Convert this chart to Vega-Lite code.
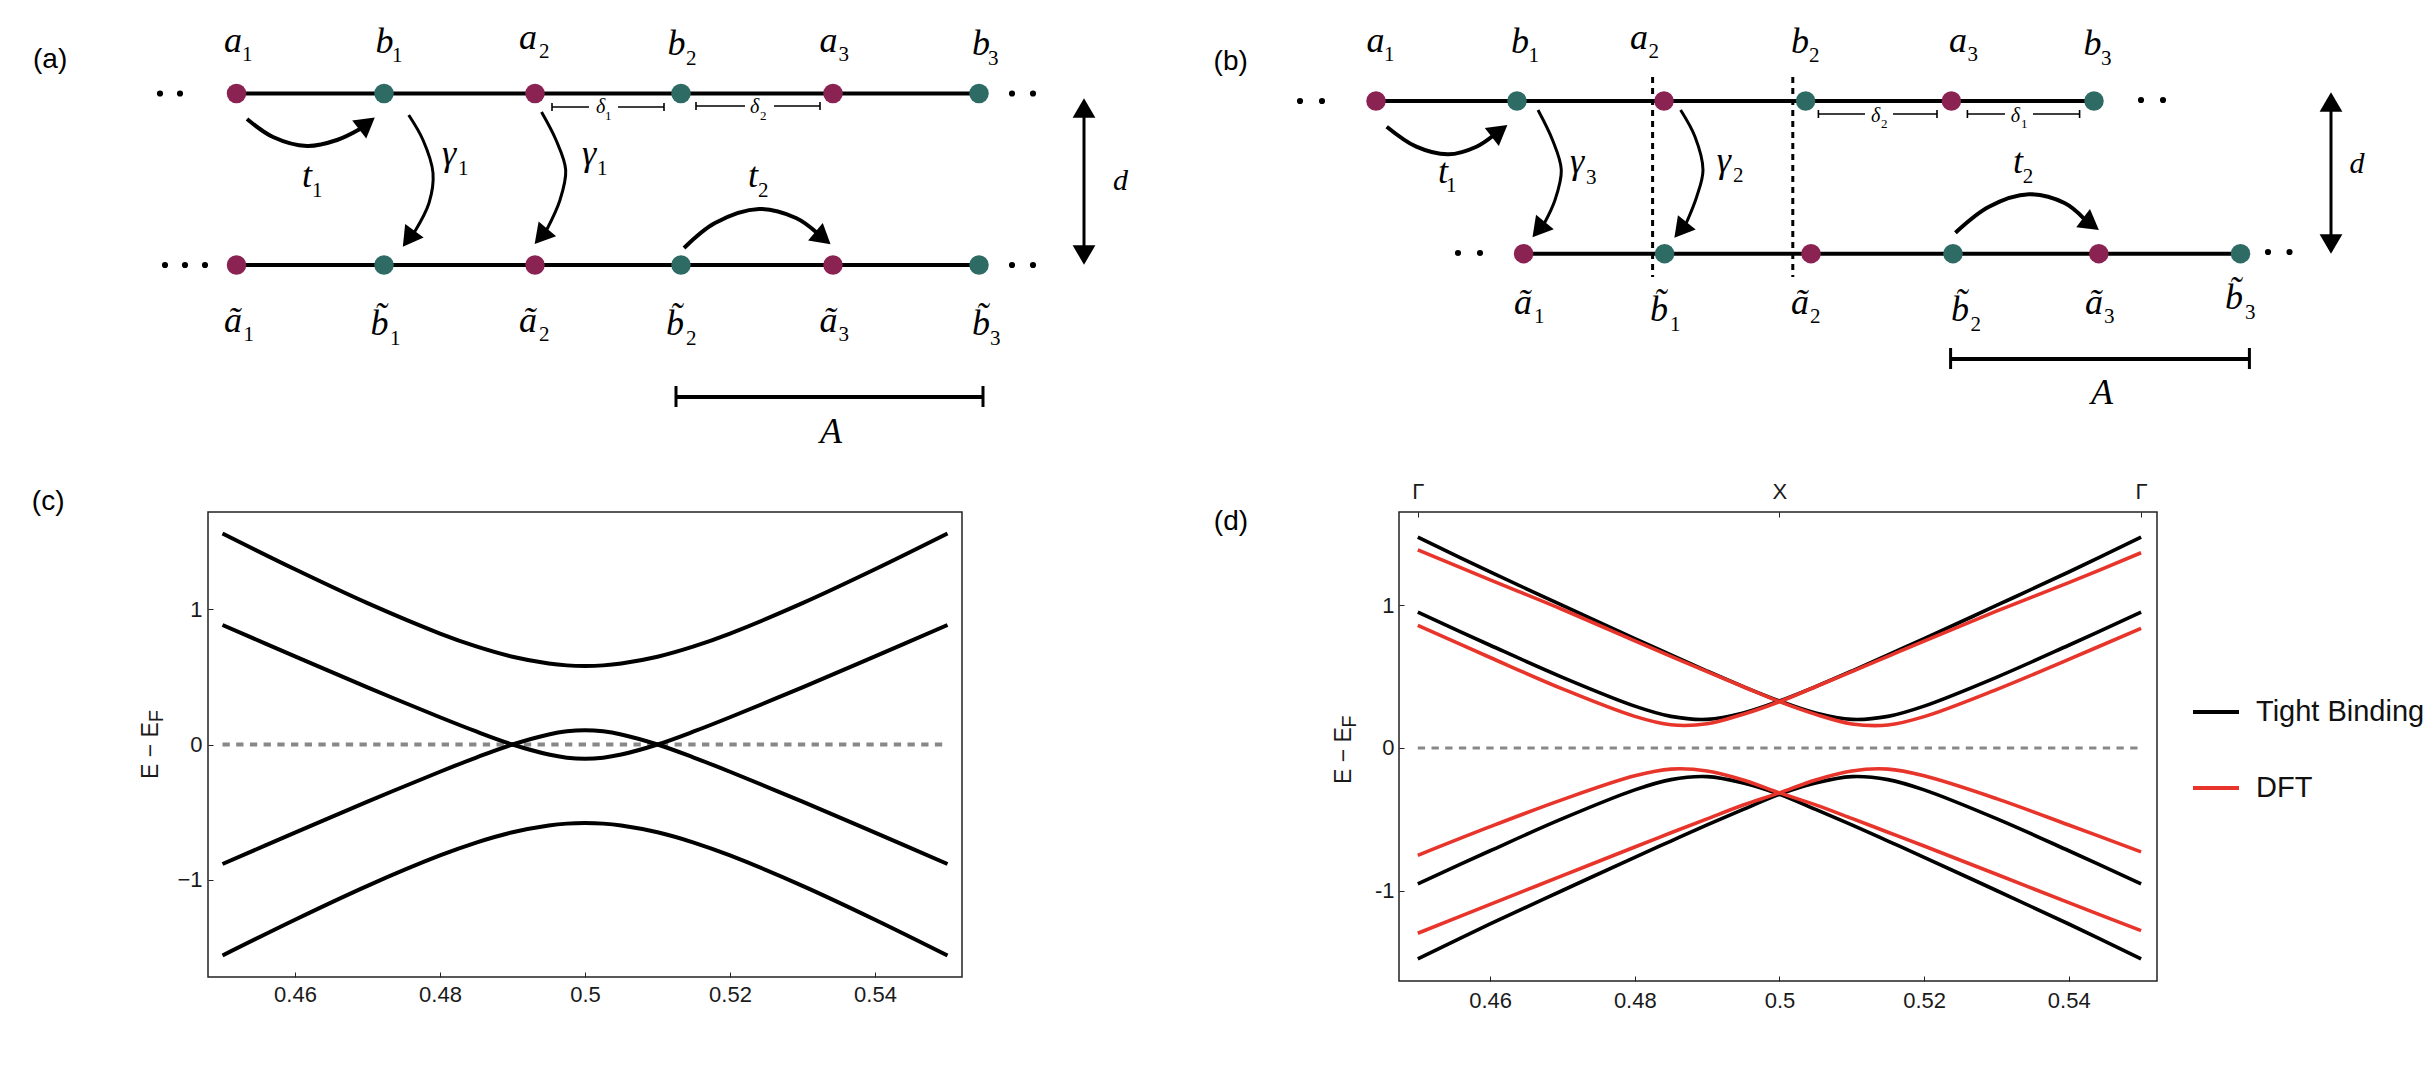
{"$schema":"https://vega.github.io/schema/vega-lite/v6.json","background":"white","padding":{"left":31,"top":0,"right":0,"bottom":0},"columns":2,"align":"each","bounds":"flush","spacing":{"column":437,"row":32},"resolve":{"scale":{"color":"independent"},"legend":{"color":"independent"}},"config":{"style":{"cell":{"stroke":null}}},
"datasets":{
"a_nodes":[{"n":"a1","c":"top","s":"a","x":236.5,"y":93.5},{"n":"b1","c":"top","s":"b","x":384,"y":93.5},{"n":"a2","c":"top","s":"a","x":535,"y":93.5},{"n":"b2","c":"top","s":"b","x":681,"y":93.5},{"n":"a3","c":"top","s":"a","x":833,"y":93.5},{"n":"b3","c":"top","s":"b","x":979,"y":93.5},{"n":"a1t","c":"bot","s":"a","x":236.5,"y":265},{"n":"b1t","c":"bot","s":"b","x":384,"y":265},{"n":"a2t","c":"bot","s":"a","x":535,"y":265},{"n":"b2t","c":"bot","s":"b","x":681,"y":265},{"n":"a3t","c":"bot","s":"a","x":833,"y":265},{"n":"b3t","c":"bot","s":"b","x":979,"y":265}],
"a_dots":[{"x":160,"y":93.5},{"x":180,"y":93.5},{"x":1012,"y":93.5},{"x":1033,"y":93.5},{"x":165,"y":265},{"x":185,"y":265},{"x":205,"y":265},{"x":1012,"y":265},{"x":1033,"y":265}],
"a_segs":[{"s":"A","k":"w4","x":676,"y":397},{"s":"A","k":"w4","x":983,"y":397},{"s":"c1","k":"w3","x":676,"y":386},{"s":"c1","k":"w3","x":676,"y":407},{"s":"c2","k":"w3","x":983,"y":386},{"s":"c2","k":"w3","x":983,"y":407},{"s":"d","k":"w3","x":1084,"y":110},{"s":"d","k":"w3","x":1084,"y":253},
{"s":"d1a","k":"w1","x":552,"y":107},{"s":"d1a","k":"w1","x":589,"y":107},{"s":"d1b","k":"w1","x":618,"y":107},{"s":"d1b","k":"w1","x":664,"y":107},{"s":"d1c","k":"w1","x":552,"y":103},{"s":"d1c","k":"w1","x":552,"y":111},{"s":"d1d","k":"w1","x":664,"y":103},{"s":"d1d","k":"w1","x":664,"y":111},
{"s":"d2a","k":"w1","x":696,"y":106},{"s":"d2a","k":"w1","x":745,"y":106},{"s":"d2b","k":"w1","x":774,"y":106},{"s":"d2b","k":"w1","x":820,"y":106},{"s":"d2c","k":"w1","x":696,"y":102},{"s":"d2c","k":"w1","x":696,"y":110},{"s":"d2d","k":"w1","x":820,"y":102},{"s":"d2d","k":"w1","x":820,"y":110}],
"a_arrows":[{"a":"t1","k":"t","i":0,"x":247,"y":119},{"a":"t1","k":"t","i":1,"x":273,"y":137},{"a":"t1","k":"t","i":2,"x":307,"y":146},{"a":"t1","k":"t","i":3,"x":337,"y":140},{"a":"t1","k":"t","i":4,"x":360,"y":129},
{"a":"g1","k":"g","i":0,"x":408.7,"y":115},{"a":"g1","k":"g","i":1,"x":423,"y":140},{"a":"g1","k":"g","i":2,"x":433,"y":173},{"a":"g1","k":"g","i":3,"x":429,"y":203},{"a":"g1","k":"g","i":4,"x":414.5,"y":232},
{"a":"g2","k":"g","i":0,"x":541.5,"y":112},{"a":"g2","k":"g","i":1,"x":556,"y":140},{"a":"g2","k":"g","i":2,"x":565.7,"y":170},{"a":"g2","k":"g","i":3,"x":560,"y":200},{"a":"g2","k":"g","i":4,"x":546.6,"y":230},
{"a":"t2","k":"t","i":0,"x":684,"y":248},{"a":"t2","k":"t","i":1,"x":715,"y":223},{"a":"t2","k":"t","i":2,"x":759,"y":209},{"a":"t2","k":"t","i":3,"x":796,"y":218},{"a":"t2","k":"t","i":4,"x":816,"y":232}],
"a_heads":[{"x":367,"y":123.5,"r":52},{"x":408.6,"y":238.8,"r":216},{"x":541,"y":236.5,"r":220},{"x":823,"y":238,"r":130},{"x":1084,"y":108,"r":0},{"x":1084,"y":255,"r":180}],
"a_text":[{"k":"panel","t":"(a)","x":33,"y":68},
{"k":"main","t":"a","x":224,"y":52},{"k":"sub","t":"1","x":242,"y":61},{"k":"main","t":"b","x":375.6,"y":53},{"k":"sub","t":"1","x":392,"y":62},{"k":"main","t":"a","x":519,"y":49},{"k":"sub","t":"2","x":539,"y":58},{"k":"main","t":"b","x":667.6,"y":55},{"k":"sub","t":"2","x":686,"y":65},{"k":"main","t":"a","x":819.5,"y":52},{"k":"sub","t":"3","x":838.6,"y":61},{"k":"main","t":"b","x":972,"y":55},{"k":"sub","t":"3","x":988,"y":65},
{"k":"main","t":"ã","x":224,"y":332},{"k":"sub","t":"1","x":243.6,"y":341},{"k":"main","t":"b̃","x":370.5,"y":335},{"k":"sub","t":"1","x":390,"y":345},{"k":"main","t":"ã","x":519,"y":332},{"k":"sub","t":"2","x":539,"y":341},{"k":"main","t":"b̃","x":666,"y":335},{"k":"sub","t":"2","x":686,"y":345},{"k":"main","t":"ã","x":819.5,"y":332},{"k":"sub","t":"3","x":838.6,"y":341},{"k":"main","t":"b̃","x":972,"y":335},{"k":"sub","t":"3","x":990,"y":345},
{"k":"main","t":"t","x":302,"y":187},{"k":"sub","t":"1","x":312,"y":197},{"k":"main","t":"γ","x":442,"y":165},{"k":"sub","t":"1","x":458,"y":175},{"k":"main","t":"γ","x":582,"y":165},{"k":"sub","t":"1","x":597,"y":175},{"k":"main","t":"t","x":748,"y":187},{"k":"sub","t":"2","x":758,"y":197},{"k":"main","t":"A","x":820,"y":443},{"k":"d","t":"d","x":1113,"y":190},
{"k":"small","t":"δ","x":596,"y":113},{"k":"smallsub","t":"1","x":605,"y":120},{"k":"small","t":"δ","x":750,"y":113},{"k":"smallsub","t":"2","x":760,"y":120}],
"b_nodes":[{"n":"a1","c":"top","s":"a","x":1376,"y":101},{"n":"b1","c":"top","s":"b","x":1517,"y":101},{"n":"a2","c":"top","s":"a","x":1664,"y":101},{"n":"b2","c":"top","s":"b","x":1805.6,"y":101},{"n":"a3","c":"top","s":"a","x":1951.4,"y":101},{"n":"b3","c":"top","s":"b","x":2094,"y":101},{"n":"a1t","c":"bot","s":"a","x":1523.6,"y":253.7},{"n":"b1t","c":"bot","s":"b","x":1664.6,"y":253.7},{"n":"a2t","c":"bot","s":"a","x":1811,"y":253.7},{"n":"b2t","c":"bot","s":"b","x":1953,"y":253.7},{"n":"a3t","c":"bot","s":"a","x":2098.8,"y":253.7},{"n":"b3t","c":"bot","s":"b","x":2240.5,"y":253.7}],
"b_dots":[{"x":1300,"y":101},{"x":1322,"y":101},{"x":2141,"y":100},{"x":2163,"y":100},{"x":1458,"y":253},{"x":1480,"y":253},{"x":2268,"y":252},{"x":2289.5,"y":252}],
"b_segs":[{"s":"A","k":"w4","x":1950.6,"y":359},{"s":"A","k":"w4","x":2249.4,"y":359},{"s":"c1","k":"w3","x":1950.6,"y":348},{"s":"c1","k":"w3","x":1950.6,"y":369},{"s":"c2","k":"w3","x":2249.4,"y":348},{"s":"c2","k":"w3","x":2249.4,"y":369},{"s":"d","k":"w3","x":2331,"y":104},{"s":"d","k":"w3","x":2331,"y":242},
{"s":"d2a","k":"w1","x":1818.4,"y":114},{"s":"d2a","k":"w1","x":1865,"y":114},{"s":"d2b","k":"w1","x":1893,"y":114},{"s":"d2b","k":"w1","x":1937,"y":114},{"s":"d2c","k":"w1","x":1818.4,"y":110},{"s":"d2c","k":"w1","x":1818.4,"y":118},{"s":"d2d","k":"w1","x":1937,"y":110},{"s":"d2d","k":"w1","x":1937,"y":118},
{"s":"d1a","k":"w1","x":1967.4,"y":114},{"s":"d1a","k":"w1","x":2005,"y":114},{"s":"d1b","k":"w1","x":2033,"y":114},{"s":"d1b","k":"w1","x":2079.6,"y":114},{"s":"d1c","k":"w1","x":1967.4,"y":110},{"s":"d1c","k":"w1","x":1967.4,"y":118},{"s":"d1d","k":"w1","x":2079.6,"y":110},{"s":"d1d","k":"w1","x":2079.6,"y":118},
{"s":"v1","k":"dash","x":1652.6,"y":77},{"s":"v1","k":"dash","x":1652.6,"y":277},{"s":"v2","k":"dash","x":1792.8,"y":77},{"s":"v2","k":"dash","x":1792.8,"y":277}],
"b_arrows":[{"a":"t1","k":"t","i":0,"x":1386.7,"y":126.7},{"a":"t1","k":"t","i":1,"x":1416.3,"y":146.7},{"a":"t1","k":"t","i":2,"x":1448.3,"y":154.3},{"a":"t1","k":"t","i":3,"x":1476.4,"y":146.7},{"a":"t1","k":"t","i":4,"x":1494,"y":135},
{"a":"g3","k":"g","i":0,"x":1538,"y":110},{"a":"g3","k":"g","i":1,"x":1552.5,"y":140},{"a":"g3","k":"g","i":2,"x":1561.3,"y":170},{"a":"g3","k":"g","i":3,"x":1555,"y":200},{"a":"g3","k":"g","i":4,"x":1544.5,"y":223},
{"a":"g2","k":"g","i":0,"x":1680.6,"y":110},{"a":"g2","k":"g","i":1,"x":1695,"y":136.7},{"a":"g2","k":"g","i":2,"x":1703,"y":170},{"a":"g2","k":"g","i":3,"x":1696.7,"y":196.7},{"a":"g2","k":"g","i":4,"x":1686.3,"y":223},
{"a":"t2","k":"t","i":0,"x":1955.4,"y":232.7},{"a":"t2","k":"t","i":1,"x":1989,"y":206.7},{"a":"t2","k":"t","i":2,"x":2029,"y":194.3},{"a":"t2","k":"t","i":3,"x":2065,"y":203.3},{"a":"t2","k":"t","i":4,"x":2083.6,"y":218.3}],
"b_heads":[{"x":1499.6,"y":131,"r":52},{"x":1538.7,"y":229.7,"r":219},{"x":1680.6,"y":230,"r":219},{"x":2091,"y":224,"r":127},{"x":2331,"y":102,"r":0},{"x":2331,"y":244,"r":180}],
"b_text":[{"k":"panel","t":"(b)","x":1213.6,"y":70},
{"k":"main","t":"a","x":1366.6,"y":52},{"k":"sub","t":"1","x":1384,"y":61},{"k":"main","t":"b","x":1511,"y":53},{"k":"sub","t":"1","x":1528.4,"y":62},{"k":"main","t":"a","x":1630,"y":49},{"k":"sub","t":"2","x":1648.6,"y":58},{"k":"main","t":"b","x":1791,"y":53},{"k":"sub","t":"2","x":1809,"y":62},{"k":"main","t":"a","x":1949,"y":52},{"k":"sub","t":"3","x":1967.4,"y":61},{"k":"main","t":"b","x":2083.5,"y":55},{"k":"sub","t":"3","x":2101,"y":65},
{"k":"main","t":"ã","x":1514,"y":314},{"k":"sub","t":"1","x":1534,"y":323},{"k":"main","t":"b̃","x":1650,"y":320.7},{"k":"sub","t":"1","x":1670,"y":331},{"k":"main","t":"ã","x":1791,"y":314},{"k":"sub","t":"2","x":1810,"y":323},{"k":"main","t":"b̃","x":1951,"y":320.7},{"k":"sub","t":"2","x":1970.6,"y":331},{"k":"main","t":"ã","x":2085,"y":314},{"k":"sub","t":"3","x":2104,"y":323},{"k":"main","t":"b̃","x":2225,"y":309},{"k":"sub","t":"3","x":2245,"y":319},
{"k":"main","t":"t","x":1438,"y":183},{"k":"sub","t":"1","x":1446,"y":192},{"k":"main","t":"γ","x":1570,"y":173},{"k":"sub","t":"3","x":1586,"y":184},{"k":"main","t":"γ","x":1716.7,"y":172},{"k":"sub","t":"2","x":1733,"y":182},{"k":"main","t":"t","x":2013,"y":173},{"k":"sub","t":"2","x":2022.7,"y":183},{"k":"main","t":"A","x":2091,"y":404},{"k":"d","t":"d","x":2349.5,"y":172.7},
{"k":"small","t":"δ","x":1871,"y":121.7},{"k":"smallsub","t":"2","x":1881,"y":128},{"k":"small","t":"δ","x":2010.7,"y":121.7},{"k":"smallsub","t":"1","x":2021,"y":128}],
"c_bands":[
{"b":"1","k":0.45,"E":1.557},{"b":"1","k":0.46,"E":1.293},{"b":"1","k":0.47,"E":1.043},{"b":"1","k":0.48,"E":0.819},{"b":"1","k":0.485,"E":0.724},{"b":"1","k":0.49,"E":0.648},{"b":"1","k":0.495,"E":0.598},{"b":"1","k":0.4975,"E":0.584},{"b":"1","k":0.5,"E":0.58},{"b":"1","k":0.5025,"E":0.584},{"b":"1","k":0.505,"E":0.598},{"b":"1","k":0.51,"E":0.648},{"b":"1","k":0.515,"E":0.724},{"b":"1","k":0.52,"E":0.819},{"b":"1","k":0.53,"E":1.043},{"b":"1","k":0.54,"E":1.293},{"b":"1","k":0.55,"E":1.557},
{"b":"2","k":0.45,"E":0.882},{"b":"2","k":0.46,"E":0.651},{"b":"2","k":0.47,"E":0.422},{"b":"2","k":0.48,"E":0.201},{"b":"2","k":0.485,"E":0.096},{"b":"2","k":0.49,"E":0},{"b":"2","k":0.495,"E":-0.074},{"b":"2","k":0.4975,"E":-0.097},{"b":"2","k":0.5,"E":-0.105},{"b":"2","k":0.5025,"E":-0.097},{"b":"2","k":0.505,"E":-0.074},{"b":"2","k":0.51,"E":0},{"b":"2","k":0.515,"E":0.096},{"b":"2","k":0.52,"E":0.201},{"b":"2","k":0.53,"E":0.422},{"b":"2","k":0.54,"E":0.651},{"b":"2","k":0.55,"E":0.882},
{"b":"3","k":0.45,"E":-0.882},{"b":"3","k":0.46,"E":-0.651},{"b":"3","k":0.47,"E":-0.422},{"b":"3","k":0.48,"E":-0.201},{"b":"3","k":0.485,"E":-0.096},{"b":"3","k":0.49,"E":0},{"b":"3","k":0.495,"E":0.074},{"b":"3","k":0.4975,"E":0.097},{"b":"3","k":0.5,"E":0.105},{"b":"3","k":0.5025,"E":0.097},{"b":"3","k":0.505,"E":0.074},{"b":"3","k":0.51,"E":0},{"b":"3","k":0.515,"E":-0.096},{"b":"3","k":0.52,"E":-0.201},{"b":"3","k":0.53,"E":-0.422},{"b":"3","k":0.54,"E":-0.651},{"b":"3","k":0.55,"E":-0.882},
{"b":"4","k":0.45,"E":-1.557},{"b":"4","k":0.46,"E":-1.293},{"b":"4","k":0.47,"E":-1.043},{"b":"4","k":0.48,"E":-0.819},{"b":"4","k":0.485,"E":-0.724},{"b":"4","k":0.49,"E":-0.648},{"b":"4","k":0.495,"E":-0.598},{"b":"4","k":0.4975,"E":-0.584},{"b":"4","k":0.5,"E":-0.58},{"b":"4","k":0.5025,"E":-0.584},{"b":"4","k":0.505,"E":-0.598},{"b":"4","k":0.51,"E":-0.648},{"b":"4","k":0.515,"E":-0.724},{"b":"4","k":0.52,"E":-0.819},{"b":"4","k":0.53,"E":-1.043},{"b":"4","k":0.54,"E":-1.293},{"b":"4","k":0.55,"E":-1.557}],
"d_bands":[
{"m":"Tight Binding","b":"T1","k":0.45,"E":1.48},{"m":"Tight Binding","b":"T1","k":0.46,"E":1.235},{"m":"Tight Binding","b":"T1","k":0.47,"E":1.0},{"m":"Tight Binding","b":"T1","k":0.48,"E":0.767},{"m":"Tight Binding","b":"T1","k":0.485,"E":0.653},{"m":"Tight Binding","b":"T1","k":0.49,"E":0.54},{"m":"Tight Binding","b":"T1","k":0.495,"E":0.431},{"m":"Tight Binding","b":"T1","k":0.5,"E":0.33},{"m":"Tight Binding","b":"T1","k":0.505,"E":0.246},{"m":"Tight Binding","b":"T1","k":0.51,"E":0.201},{"m":"Tight Binding","b":"T1","k":0.515,"E":0.222},{"m":"Tight Binding","b":"T1","k":0.52,"E":0.294},{"m":"Tight Binding","b":"T1","k":0.53,"E":0.496},{"m":"Tight Binding","b":"T1","k":0.54,"E":0.721},{"m":"Tight Binding","b":"T1","k":0.55,"E":0.953},
{"m":"Tight Binding","b":"T2","k":0.45,"E":0.953},{"m":"Tight Binding","b":"T2","k":0.46,"E":0.721},{"m":"Tight Binding","b":"T2","k":0.47,"E":0.496},{"m":"Tight Binding","b":"T2","k":0.48,"E":0.294},{"m":"Tight Binding","b":"T2","k":0.485,"E":0.222},{"m":"Tight Binding","b":"T2","k":0.49,"E":0.201},{"m":"Tight Binding","b":"T2","k":0.495,"E":0.246},{"m":"Tight Binding","b":"T2","k":0.5,"E":0.33},{"m":"Tight Binding","b":"T2","k":0.505,"E":0.431},{"m":"Tight Binding","b":"T2","k":0.51,"E":0.54},{"m":"Tight Binding","b":"T2","k":0.515,"E":0.653},{"m":"Tight Binding","b":"T2","k":0.52,"E":0.767},{"m":"Tight Binding","b":"T2","k":0.53,"E":1.0},{"m":"Tight Binding","b":"T2","k":0.54,"E":1.235},{"m":"Tight Binding","b":"T2","k":0.55,"E":1.48},
{"m":"Tight Binding","b":"T3","k":0.45,"E":-1.48},{"m":"Tight Binding","b":"T3","k":0.46,"E":-1.235},{"m":"Tight Binding","b":"T3","k":0.47,"E":-1.0},{"m":"Tight Binding","b":"T3","k":0.48,"E":-0.767},{"m":"Tight Binding","b":"T3","k":0.485,"E":-0.653},{"m":"Tight Binding","b":"T3","k":0.49,"E":-0.54},{"m":"Tight Binding","b":"T3","k":0.495,"E":-0.431},{"m":"Tight Binding","b":"T3","k":0.5,"E":-0.325},{"m":"Tight Binding","b":"T3","k":0.505,"E":-0.246},{"m":"Tight Binding","b":"T3","k":0.51,"E":-0.201},{"m":"Tight Binding","b":"T3","k":0.515,"E":-0.222},{"m":"Tight Binding","b":"T3","k":0.52,"E":-0.294},{"m":"Tight Binding","b":"T3","k":0.53,"E":-0.496},{"m":"Tight Binding","b":"T3","k":0.54,"E":-0.721},{"m":"Tight Binding","b":"T3","k":0.55,"E":-0.953},
{"m":"Tight Binding","b":"T4","k":0.45,"E":-0.953},{"m":"Tight Binding","b":"T4","k":0.46,"E":-0.721},{"m":"Tight Binding","b":"T4","k":0.47,"E":-0.496},{"m":"Tight Binding","b":"T4","k":0.48,"E":-0.294},{"m":"Tight Binding","b":"T4","k":0.485,"E":-0.222},{"m":"Tight Binding","b":"T4","k":0.49,"E":-0.201},{"m":"Tight Binding","b":"T4","k":0.495,"E":-0.246},{"m":"Tight Binding","b":"T4","k":0.5,"E":-0.325},{"m":"Tight Binding","b":"T4","k":0.505,"E":-0.431},{"m":"Tight Binding","b":"T4","k":0.51,"E":-0.54},{"m":"Tight Binding","b":"T4","k":0.515,"E":-0.653},{"m":"Tight Binding","b":"T4","k":0.52,"E":-0.767},{"m":"Tight Binding","b":"T4","k":0.53,"E":-1.0},{"m":"Tight Binding","b":"T4","k":0.54,"E":-1.235},{"m":"Tight Binding","b":"T4","k":0.55,"E":-1.48},
{"m":"DFT","b":"R1","k":0.45,"E":1.39},{"m":"DFT","b":"R1","k":0.46,"E":1.18},{"m":"DFT","b":"R1","k":0.47,"E":0.972},{"m":"DFT","b":"R1","k":0.48,"E":0.752},{"m":"DFT","b":"R1","k":0.485,"E":0.643},{"m":"DFT","b":"R1","k":0.49,"E":0.536},{"m":"DFT","b":"R1","k":0.495,"E":0.43},{"m":"DFT","b":"R1","k":0.5,"E":0.325},{"m":"DFT","b":"R1","k":0.505,"E":0.236},{"m":"DFT","b":"R1","k":0.51,"E":0.169},{"m":"DFT","b":"R1","k":0.515,"E":0.161},{"m":"DFT","b":"R1","k":0.52,"E":0.22},{"m":"DFT","b":"R1","k":0.53,"E":0.41},{"m":"DFT","b":"R1","k":0.54,"E":0.622},{"m":"DFT","b":"R1","k":0.55,"E":0.84},
{"m":"DFT","b":"R2","k":0.45,"E":0.86},{"m":"DFT","b":"R2","k":0.46,"E":0.635},{"m":"DFT","b":"R2","k":0.47,"E":0.415},{"m":"DFT","b":"R2","k":0.48,"E":0.222},{"m":"DFT","b":"R2","k":0.485,"E":0.163},{"m":"DFT","b":"R2","k":0.49,"E":0.17},{"m":"DFT","b":"R2","k":0.495,"E":0.237},{"m":"DFT","b":"R2","k":0.5,"E":0.325},{"m":"DFT","b":"R2","k":0.505,"E":0.43},{"m":"DFT","b":"R2","k":0.51,"E":0.536},{"m":"DFT","b":"R2","k":0.515,"E":0.643},{"m":"DFT","b":"R2","k":0.52,"E":0.75},{"m":"DFT","b":"R2","k":0.53,"E":0.96},{"m":"DFT","b":"R2","k":0.54,"E":1.16},{"m":"DFT","b":"R2","k":0.55,"E":1.37},
{"m":"DFT","b":"R3","k":0.45,"E":-0.753},{"m":"DFT","b":"R3","k":0.46,"E":-0.552},{"m":"DFT","b":"R3","k":0.47,"E":-0.362},{"m":"DFT","b":"R3","k":0.48,"E":-0.195},{"m":"DFT","b":"R3","k":0.485,"E":-0.148},{"m":"DFT","b":"R3","k":0.49,"E":-0.161},{"m":"DFT","b":"R3","k":0.495,"E":-0.224},{"m":"DFT","b":"R3","k":0.5,"E":-0.315},{"m":"DFT","b":"R3","k":0.505,"E":-0.399},{"m":"DFT","b":"R3","k":0.51,"E":-0.494},{"m":"DFT","b":"R3","k":0.515,"E":-0.591},{"m":"DFT","b":"R3","k":0.52,"E":-0.688},{"m":"DFT","b":"R3","k":0.53,"E":-0.886},{"m":"DFT","b":"R3","k":0.54,"E":-1.085},{"m":"DFT","b":"R3","k":0.55,"E":-1.282},
{"m":"DFT","b":"R4","k":0.45,"E":-1.3},{"m":"DFT","b":"R4","k":0.46,"E":-1.097},{"m":"DFT","b":"R4","k":0.47,"E":-0.896},{"m":"DFT","b":"R4","k":0.48,"E":-0.695},{"m":"DFT","b":"R4","k":0.485,"E":-0.595},{"m":"DFT","b":"R4","k":0.49,"E":-0.497},{"m":"DFT","b":"R4","k":0.495,"E":-0.4},{"m":"DFT","b":"R4","k":0.5,"E":-0.315},{"m":"DFT","b":"R4","k":0.505,"E":-0.224},{"m":"DFT","b":"R4","k":0.51,"E":-0.161},{"m":"DFT","b":"R4","k":0.515,"E":-0.148},{"m":"DFT","b":"R4","k":0.52,"E":-0.195},{"m":"DFT","b":"R4","k":0.53,"E":-0.355},{"m":"DFT","b":"R4","k":0.54,"E":-0.54},{"m":"DFT","b":"R4","k":0.55,"E":-0.729}],
"zero":[{"k":0.45,"E":0},{"k":0.55,"E":0}]
},
"concat":[
{"width":754,"height":480,"view":{"stroke":null},
"encoding":{"x":{"field":"x","type":"quantitative","scale":{"domain":[208,962],"nice":false,"zero":false},"axis":null},"y":{"field":"y","type":"quantitative","scale":{"domain":[0,480],"reverse":true,"nice":false,"zero":false},"axis":null}},
"layer":[
{"data":{"name":"a_nodes"},"mark":{"type":"line","stroke":"black","strokeWidth":4},"encoding":{"detail":{"field":"c"}}},
{"data":{"name":"a_segs"},"transform":[{"filter":"datum.k=='w4'"}],"mark":{"type":"line","stroke":"black","strokeWidth":4},"encoding":{"detail":{"field":"s"}}},
{"data":{"name":"a_segs"},"transform":[{"filter":"datum.k=='w3'"}],"mark":{"type":"line","stroke":"black","strokeWidth":3},"encoding":{"detail":{"field":"s"}}},
{"data":{"name":"a_segs"},"transform":[{"filter":"datum.k=='w1'"}],"mark":{"type":"line","stroke":"black","strokeWidth":1.6},"encoding":{"detail":{"field":"s"}}},
{"data":{"name":"a_arrows"},"transform":[{"filter":"datum.k=='t'"}],"mark":{"type":"line","stroke":"black","strokeWidth":4,"interpolate":"catmull-rom"},"encoding":{"detail":{"field":"a"},"order":{"field":"i"}}},
{"data":{"name":"a_arrows"},"transform":[{"filter":"datum.k=='g'"}],"mark":{"type":"line","stroke":"black","strokeWidth":3,"interpolate":"catmull-rom"},"encoding":{"detail":{"field":"a"},"order":{"field":"i"}}},
{"data":{"name":"a_heads"},"mark":{"type":"point","shape":"triangle-up","filled":true,"fill":"black","opacity":1,"size":520},"encoding":{"angle":{"field":"r","type":"quantitative","scale":null}}},
{"data":{"name":"a_dots"},"mark":{"type":"circle","fill":"black","opacity":1,"size":38}},
{"data":{"name":"a_nodes"},"mark":{"type":"circle","opacity":1,"size":380},"encoding":{"color":{"field":"s","type":"nominal","scale":{"domain":["a","b"],"range":["#8A2252","#2E6B65"]},"legend":null}}},
{"data":{"name":"a_text"},"transform":[{"filter":"datum.k=='main'"}],"mark":{"type":"text","font":"Liberation Serif","fontStyle":"italic","fontSize":36,"align":"left","baseline":"alphabetic","fill":"black"},"encoding":{"text":{"field":"t"}}},
{"data":{"name":"a_text"},"transform":[{"filter":"datum.k=='sub'"}],"mark":{"type":"text","font":"Liberation Serif","fontSize":21,"align":"left","baseline":"alphabetic","fill":"black"},"encoding":{"text":{"field":"t"}}},
{"data":{"name":"a_text"},"transform":[{"filter":"datum.k=='d'"}],"mark":{"type":"text","font":"Liberation Serif","fontStyle":"italic","fontSize":30,"align":"left","baseline":"alphabetic","fill":"black"},"encoding":{"text":{"field":"t"}}},
{"data":{"name":"a_text"},"transform":[{"filter":"datum.k=='small'"}],"mark":{"type":"text","font":"Liberation Serif","fontStyle":"italic","fontSize":20,"align":"left","baseline":"alphabetic","fill":"black"},"encoding":{"text":{"field":"t"}}},
{"data":{"name":"a_text"},"transform":[{"filter":"datum.k=='smallsub'"}],"mark":{"type":"text","font":"Liberation Serif","fontSize":13,"align":"left","baseline":"alphabetic","fill":"black"},"encoding":{"text":{"field":"t"}}},
{"data":{"name":"a_text"},"transform":[{"filter":"datum.k=='panel'"}],"mark":{"type":"text","font":"Liberation Sans","fontSize":28,"align":"left","baseline":"alphabetic","fill":"black"},"encoding":{"text":{"field":"t"}}}
]},
{"width":758,"height":480,"view":{"stroke":null},
"encoding":{"x":{"field":"x","type":"quantitative","scale":{"domain":[1399,2157],"nice":false,"zero":false},"axis":null},"y":{"field":"y","type":"quantitative","scale":{"domain":[0,480],"reverse":true,"nice":false,"zero":false},"axis":null}},
"layer":[
{"data":{"name":"b_nodes"},"mark":{"type":"line","stroke":"black","strokeWidth":4},"encoding":{"detail":{"field":"c"}}},
{"data":{"name":"b_segs"},"transform":[{"filter":"datum.k=='w4'"}],"mark":{"type":"line","stroke":"black","strokeWidth":4},"encoding":{"detail":{"field":"s"}}},
{"data":{"name":"b_segs"},"transform":[{"filter":"datum.k=='w3'"}],"mark":{"type":"line","stroke":"black","strokeWidth":3},"encoding":{"detail":{"field":"s"}}},
{"data":{"name":"b_segs"},"transform":[{"filter":"datum.k=='w1'"}],"mark":{"type":"line","stroke":"black","strokeWidth":1.6},"encoding":{"detail":{"field":"s"}}},
{"data":{"name":"b_segs"},"transform":[{"filter":"datum.k=='dash'"}],"mark":{"type":"line","stroke":"black","strokeWidth":3,"strokeDash":[6,5]},"encoding":{"detail":{"field":"s"}}},
{"data":{"name":"b_arrows"},"transform":[{"filter":"datum.k=='t'"}],"mark":{"type":"line","stroke":"black","strokeWidth":4,"interpolate":"catmull-rom"},"encoding":{"detail":{"field":"a"},"order":{"field":"i"}}},
{"data":{"name":"b_arrows"},"transform":[{"filter":"datum.k=='g'"}],"mark":{"type":"line","stroke":"black","strokeWidth":3,"interpolate":"catmull-rom"},"encoding":{"detail":{"field":"a"},"order":{"field":"i"}}},
{"data":{"name":"b_heads"},"mark":{"type":"point","shape":"triangle-up","filled":true,"fill":"black","opacity":1,"size":520},"encoding":{"angle":{"field":"r","type":"quantitative","scale":null}}},
{"data":{"name":"b_dots"},"mark":{"type":"circle","fill":"black","opacity":1,"size":38}},
{"data":{"name":"b_nodes"},"mark":{"type":"circle","opacity":1,"size":380},"encoding":{"color":{"field":"s","type":"nominal","scale":{"domain":["a","b"],"range":["#8A2252","#2E6B65"]},"legend":null}}},
{"data":{"name":"b_text"},"transform":[{"filter":"datum.k=='main'"}],"mark":{"type":"text","font":"Liberation Serif","fontStyle":"italic","fontSize":36,"align":"left","baseline":"alphabetic","fill":"black"},"encoding":{"text":{"field":"t"}}},
{"data":{"name":"b_text"},"transform":[{"filter":"datum.k=='sub'"}],"mark":{"type":"text","font":"Liberation Serif","fontSize":21,"align":"left","baseline":"alphabetic","fill":"black"},"encoding":{"text":{"field":"t"}}},
{"data":{"name":"b_text"},"transform":[{"filter":"datum.k=='d'"}],"mark":{"type":"text","font":"Liberation Serif","fontStyle":"italic","fontSize":30,"align":"left","baseline":"alphabetic","fill":"black"},"encoding":{"text":{"field":"t"}}},
{"data":{"name":"b_text"},"transform":[{"filter":"datum.k=='small'"}],"mark":{"type":"text","font":"Liberation Serif","fontStyle":"italic","fontSize":20,"align":"left","baseline":"alphabetic","fill":"black"},"encoding":{"text":{"field":"t"}}},
{"data":{"name":"b_text"},"transform":[{"filter":"datum.k=='smallsub'"}],"mark":{"type":"text","font":"Liberation Serif","fontSize":13,"align":"left","baseline":"alphabetic","fill":"black"},"encoding":{"text":{"field":"t"}}},
{"data":{"name":"b_text"},"transform":[{"filter":"datum.k=='panel'"}],"mark":{"type":"text","font":"Liberation Sans","fontSize":28,"align":"left","baseline":"alphabetic","fill":"black"},"encoding":{"text":{"field":"t"}}}
]},
{"width":754,"height":465,"view":{"stroke":"#222","strokeWidth":1.5},
"layer":[
{"data":{"name":"zero"},"mark":{"type":"line","stroke":"#888","strokeWidth":4,"strokeDash":[7.3,6.4]},
"encoding":{"x":{"field":"k","type":"quantitative","scale":{"domain":[0.448,0.552],"nice":false,"zero":false},"axis":{"title":null,"values":[0.46,0.48,0.5,0.52,0.54],"labelExpr":"''+datum.value","grid":false,"domain":false,"tickSize":-5,"tickColor":"#222","labelFont":"Liberation Sans","labelFontSize":22,"labelColor":"#1a1a1a","labelPadding":12,"labelFlush":false}},
"y":{"field":"E","type":"quantitative","scale":{"domain":[-1.716,1.716],"nice":false,"zero":false},"axis":{"title":"E − E","titleFont":"Liberation Sans","titleFontSize":23,"titleFontWeight":"normal","titleColor":"#1a1a1a","titleX":-51,"titleY":238,"titleAngle":-90,"titleAlign":"center","titleBaseline":"alphabetic","values":[-1,0,1],"labelExpr":"datum.value==-1?'−1':''+datum.value","grid":false,"domain":false,"tickSize":-5,"tickColor":"#222","labelFont":"Liberation Sans","labelFontSize":22,"labelColor":"#1a1a1a","labelPadding":11}}}},
{"data":{"name":"c_bands"},"mark":{"type":"line","stroke":"black","strokeWidth":4,"interpolate":"catmull-rom"},"encoding":{"x":{"field":"k","type":"quantitative"},"y":{"field":"E","type":"quantitative"},"detail":{"field":"b"}}},
{"data":{"values":[{"k":0.4418,"E":0.21,"t":"F"}]},"mark":{"type":"text","font":"Liberation Sans","fontSize":20,"angle":270,"baseline":"alphabetic","align":"center","fill":"#1a1a1a"},"encoding":{"x":{"field":"k","type":"quantitative"},"y":{"field":"E","type":"quantitative"},"text":{"field":"t"}}},
{"data":{"values":[{"k":0.4237,"E":1.73,"t":"(c)"}]},"mark":{"type":"text","font":"Liberation Sans","fontSize":28,"align":"left","baseline":"alphabetic","fill":"black"},"encoding":{"x":{"field":"k","type":"quantitative"},"y":{"field":"E","type":"quantitative"},"text":{"field":"t"}}}
]},
{"width":758,"height":469,"view":{"stroke":"#222","strokeWidth":1.5},
"resolve":{"axis":{"x":"independent"}},
"layer":[
{"data":{"name":"zero"},"mark":{"type":"line","stroke":"#888","strokeWidth":3,"strokeDash":[7.3,6.4]},
"encoding":{"x":{"field":"k","type":"quantitative","scale":{"domain":[0.4474,0.5522],"nice":false,"zero":false},"axis":{"orient":"bottom","title":null,"values":[0.46,0.48,0.5,0.52,0.54],"labelExpr":"''+datum.value","grid":false,"domain":false,"tickSize":-5,"tickColor":"#222","labelFont":"Liberation Sans","labelFontSize":22,"labelColor":"#1a1a1a","labelPadding":14,"labelFlush":false}},
"y":{"field":"E","type":"quantitative","scale":{"domain":[-1.635,1.656],"nice":false,"zero":false},"axis":{"title":"E − E","titleFont":"Liberation Sans","titleFontSize":23,"titleFontWeight":"normal","titleColor":"#1a1a1a","titleX":-49,"titleY":243,"titleAngle":-90,"titleAlign":"center","titleBaseline":"alphabetic","values":[-1,0,1],"labelExpr":"datum.value==-1?'-1':''+datum.value","grid":false,"domain":false,"tickSize":-5,"tickColor":"#222","labelFont":"Liberation Sans","labelFontSize":22,"labelColor":"#1a1a1a","labelPadding":10}}}},
{"data":{"name":"d_bands"},"mark":{"type":"line","strokeWidth":3.6,"interpolate":"catmull-rom"},
"encoding":{"x":{"field":"k","type":"quantitative","axis":{"orient":"top","title":null,"values":[0.45,0.5,0.55],"labelExpr":"datum.value>0.49&&datum.value<0.51?'X':'Γ'","grid":false,"domain":false,"tickSize":-5,"tickColor":"#222","labelFont":"Liberation Sans","labelFontSize":22,"labelColor":"#1a1a1a","labelPadding":14,"labelFlush":false}},"y":{"field":"E","type":"quantitative"},"detail":{"field":"b"},
"color":{"field":"m","type":"nominal","sort":["Tight Binding","DFT"],"scale":{"domain":["Tight Binding","DFT"],"range":["#000000","#E8352B"]},"legend":{"orient":"none","legendX":792,"legendY":175,"title":null,"symbolType":"stroke","symbolSize":2116,"symbolStrokeWidth":4,"labelFont":"Liberation Sans","labelFontSize":29,"labelColor":"#111","labelOffset":15,"rowPadding":36,"labelLimit":300}}}},
{"data":{"values":[{"k":0.4414,"E":0.185,"t":"F"}]},"mark":{"type":"text","font":"Liberation Sans","fontSize":20,"angle":270,"baseline":"alphabetic","align":"center","fill":"#1a1a1a"},"encoding":{"x":{"field":"k","type":"quantitative","axis":null},"y":{"field":"E","type":"quantitative"},"text":{"field":"t"}}},
{"data":{"values":[{"k":0.4218,"E":1.53,"t":"(d)"}]},"mark":{"type":"text","font":"Liberation Sans","fontSize":28,"align":"left","baseline":"alphabetic","fill":"black"},"encoding":{"x":{"field":"k","type":"quantitative","axis":null},"y":{"field":"E","type":"quantitative"},"text":{"field":"t"}}}
]}
]}
